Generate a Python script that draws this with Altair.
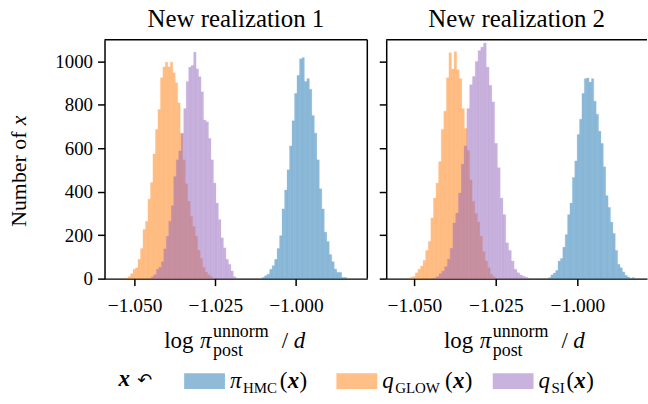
import altair as alt
import pandas as pd

FONT = "Liberation Serif"
BLUE, ORANGE, PURPLE = "#1f77b4", "#ff7f0e", "#9467bd"

# ---- data: first bin edge, bin width, counts ----
hmc1_start, hmc1_width = -1.01049, 0.000772
hmc1_counts = [6, 14, 21, 43, 60, 89, 139, 198, 321, 408, 501, 611, 727, 853, 936, 1012, 1018,
               908, 921, 872, 751, 670, 547, 414, 321, 214, 171, 111, 78, 44, 29, 29, 6, 6]
glow1_start, glow1_width = -1.05284, 0.000772
glow1_counts = [3, 9, 23, 43, 50, 89, 139, 226, 264, 366, 443, 574, 687, 779, 925, 975, 997, 975,
                997, 948, 902, 809, 669, 547, 437, 357, 287, 240, 195, 131, 93, 52, 30, 18, 9]
si1_start, si1_width = -1.04485, 0.000772
si1_counts = [9, 18, 43, 52, 78, 137, 195, 264, 336, 470, 547, 588, 669, 783, 908, 974, 982, 1043,
              966, 930, 860, 730, 722, 646, 547, 440, 348, 272, 188, 142, 89, 66, 35, 9]

hmc2_start, hmc2_width = -1.00886, 0.000733
hmc2_counts = [5, 17, 26, 38, 81, 93, 145, 203, 295, 348, 466, 542, 664, 734, 853, 921, 924, 905,
               921, 817, 757, 679, 623, 515, 382, 328, 260, 208, 130, 66, 50, 31, 15, 8, 2, 5]
glow2_start, glow2_width = -1.05131, 0.000794
glow2_counts = [6, 9, 27, 43, 58, 84, 130, 172, 279, 371, 440, 539, 687, 771, 925, 1040, 965, 1045,
                962, 921, 783, 692, 590, 455, 356, 300, 261, 195, 124, 81, 50, 20, 8]
si2_start, si2_width = -1.04417, 0.000855
si2_counts = [3, 9, 23, 35, 55, 90, 140, 256, 302, 394, 527, 611, 783, 893, 931, 1000, 1050, 1066,
              1085, 974, 890, 814, 623, 511, 371, 295, 165, 130, 81, 43, 27, 17, 11, 6]

x_ticks = [-1.05, -1.025, -1.0]
y_ticks = [0, 200, 400, 600, 800, 1000]
titles = ["New realization 1", "New realization 2"]
legend_names = ["HMC", "GLOW", "SI"]

H = 240
W1, W2 = 264, 262
dom1 = [-1.05935, -0.97787]
dom2 = [-1.05864, -0.97861]

ONE = alt.Data(values=[{}])


def txt(s, x, y, size, style="normal", weight="normal", align="left", angle=0,
        baseline="alphabetic", font=FONT):
    return alt.Chart(ONE).mark_text(
        text=s, font=font, fontSize=size, fontStyle=style, fontWeight=weight,
        align=align, baseline=baseline, angle=angle, color="black"
    ).encode(x=alt.value(x), y=alt.value(y))


def rule(x, x2, y, y2):
    return alt.Chart(ONE).mark_rule(color="black", strokeWidth=1.5).encode(
        x=alt.value(x), x2=alt.value(x2), y=alt.value(y), y2=alt.value(y2))


def hist(start, width, counts, color, dom, show_labels):
    df = pd.DataFrame({
        "x0": [start + i * width for i in range(len(counts))],
        "x1": [start + (i + 1) * width for i in range(len(counts))],
        "n": counts,
    })
    xaxis = alt.Axis(values=x_ticks, format=".3f", title=None, grid=False,
                     labelFont=FONT, labelFontSize=19.5, labelColor="black",
                     domainColor="black", domainWidth=1.5, tickColor="black",
                     tickWidth=1.5, tickSize=7, labelPadding=11)
    yaxis = alt.Axis(values=y_ticks, format="d", title=None, grid=False, labels=show_labels,
                     labelFont=FONT, labelFontSize=19, labelColor="black",
                     domainColor="black", domainWidth=1.5, tickColor="black",
                     tickWidth=1.5, tickSize=7, labelPadding=5)
    return alt.Chart(df).mark_rect(
        color=color, opacity=0.5, stroke=color, strokeWidth=0.6, strokeOpacity=0.35
    ).encode(
        x=alt.X("x0:Q", scale=alt.Scale(domain=dom, nice=False, zero=False), axis=xaxis),
        x2="x1:Q",
        y=alt.Y("n:Q", scale=alt.Scale(domain=[0, 1100], nice=False), axis=yaxis),
        y2=alt.datum(0),
    )


def xtitle(x):
    y = 310
    return [
        txt("log", x, y, 23),
        txt("π", x + 36, y, 23, style="italic"),
        txt("unnorm", x + 49, y - 11, 18),
        txt("post", x + 49, y + 8, 18),
        txt("/", x + 118, y, 23),
        txt("d", x + 130, y, 23, style="italic"),
    ]


def title(t):
    return alt.TitleParams(t, font=FONT, fontSize=25, fontWeight="normal",
                           color="black", offset=7)


left = alt.layer(
    hist(hmc1_start, hmc1_width, hmc1_counts, BLUE, dom1, True),
    hist(glow1_start, glow1_width, glow1_counts, ORANGE, dom1, True),
    hist(si1_start, si1_width, si1_counts, PURPLE, dom1, True),
    rule(0, W1, 0, 0), rule(W1, W1, 0, H),
    *xtitle(60),
    txt("Number of", -86, 188, 22, angle=270, baseline="middle"),
    txt("x", -86, 86, 22, style="italic", angle=270, baseline="middle"),
).properties(width=W1, height=H, title=title(titles[0]))

right = alt.layer(
    hist(hmc2_start, hmc2_width, hmc2_counts, BLUE, dom2, False),
    hist(glow2_start, glow2_width, glow2_counts, ORANGE, dom2, False),
    hist(si2_start, si2_width, si2_counts, PURPLE, dom2, False),
    rule(0, W2, 0, 0),
    *xtitle(58),
).properties(width=W2, height=H, title=title(titles[1]))

# ---- custom legend row (origin aligned with left plot's left edge, x=104) ----
def L(x):
    return x - 104

leg_layers = [
    txt("x", L(118), 21, 23, style="italic", weight="bold"),
    txt("↶", L(137), 21, 18, font="DejaVu Sans"),
]
entries = [
    (BLUE, 184, "π", legend_names[0], 37),
    (ORANGE, 337, "q", legend_names[1], 50),
    (PURPLE, 494, "q", legend_names[2], 15),
]
for color, sx, sym, sub, subw in entries:
    leg_layers.append(
        alt.Chart(ONE).mark_rect(color=color, opacity=0.5).encode(
            x=alt.value(L(sx)), x2=alt.value(L(sx + 41)), y=alt.value(8), y2=alt.value(24)))
    tx = sx + 46
    leg_layers += [
        txt(sym, L(tx), 23, 23, style="italic"),
        txt(sub, L(tx + 13), 28, 15),
        txt("(", L(tx + 13 + subw), 23, 23),
        txt("x", L(tx + 21 + subw), 23, 23, style="italic", weight="bold"),
        txt(")", L(tx + 33 + subw), 23, 23),
    ]
legend = alt.layer(*leg_layers).properties(width=500, height=28)

chart = alt.vconcat(
    alt.hconcat(left, right, spacing=10),
    legend,
    spacing=5,
).properties(
    padding={"left": 8, "top": 6, "right": 0, "bottom": 0}
).configure_view(stroke=None)

chart.save("out.html", embed_options={"renderer": "svg", "actions": False})
